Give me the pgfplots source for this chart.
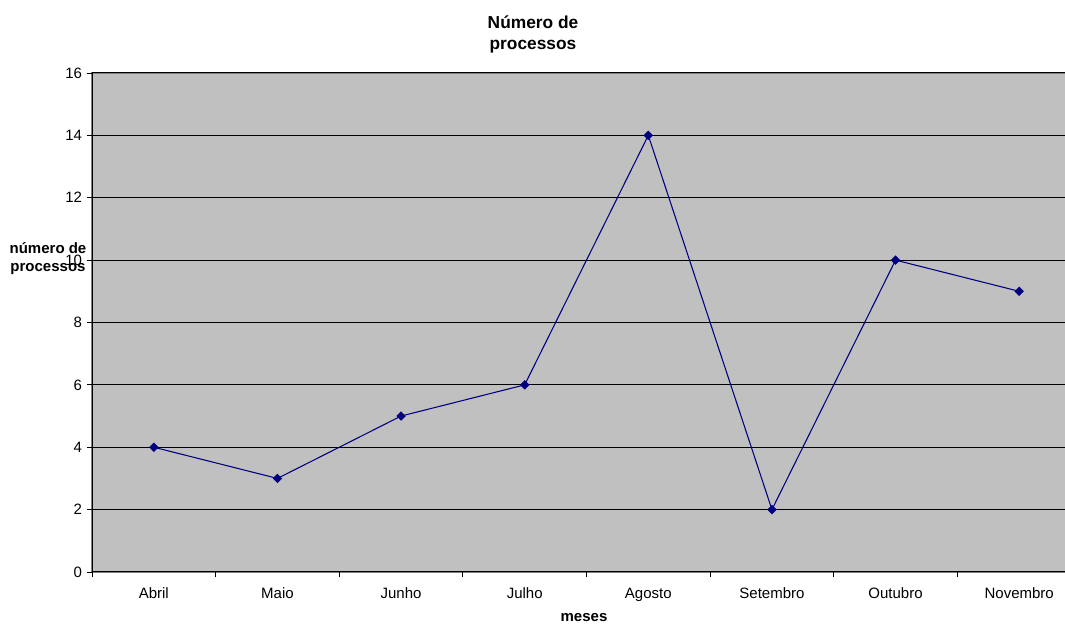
\documentclass[border=0pt]{standalone}
\usepackage{fontspec}
\setmainfont{Liberation Sans}
\usepackage{pgfplots}
\pgfplotsset{compat=1.18}
\definecolor{plotbg}{RGB}{192,192,192}
\definecolor{navyline}{RGB}{0,0,128}
\begin{document}
\begin{tikzpicture}
\begin{scope}
\clip (0,0) rectangle (798.75pt,468pt);
\begin{axis}[
  at={(69pt,39pt)}, anchor=south west,
  width=741.75pt, height=374.25pt, scale only axis,
  xmin=-0.5, xmax=7.5, ymin=0, ymax=16,
  axis lines=left,
  axis line style={-, black, line width=0.75pt},
  axis background/.style={fill=plotbg, draw=black!50, line width=1pt},
  ytick={0,2,...,16},
  xtick={0,...,7},
  xticklabels={Abril,Maio,Junho,Julho,Agosto,Setembro,Outubro,Novembro},
  minor xtick={-0.5,0.5,...,7.5},
  major x tick style={draw=none},
  minor x tick style={black, line width=0.6pt},
  y tick style={black, line width=0.6pt},
  tick align=outside,
  major tick length=4pt,
  minor tick length=4pt,
  ymajorgrids,
  major grid style={black, line width=0.75pt},
  /pgf/number format/assume math mode=true,
  ticklabel style={font=\fontsize{11.25}{13}\selectfont},
  xticklabel style={yshift=-4.5pt},
  clip=false,
]
\addplot[navyline, line width=0.8pt, mark=square*, mark size=2.1pt, mark options={rotate=45, fill=navyline, draw=navyline}]
  coordinates {(0,4) (1,3) (2,5) (3,6) (4,14) (5,2) (6,10) (7,9)};
\end{axis}
\end{scope}
\node[font=\bfseries\fontsize{13}{16}\selectfont, align=center] at (399.75pt,442pt) {Número de\\processos};
\node[font=\bfseries\fontsize{11.25}{13}\selectfont, align=center] at (36pt,274pt) {número de\\processos};
\node[font=\bfseries\fontsize{11.25}{13}\selectfont] at (438pt,5pt) {meses};
\pgfresetboundingbox
\useasboundingbox (0,0) rectangle (798.75pt,468pt);
\end{tikzpicture}
\end{document}
